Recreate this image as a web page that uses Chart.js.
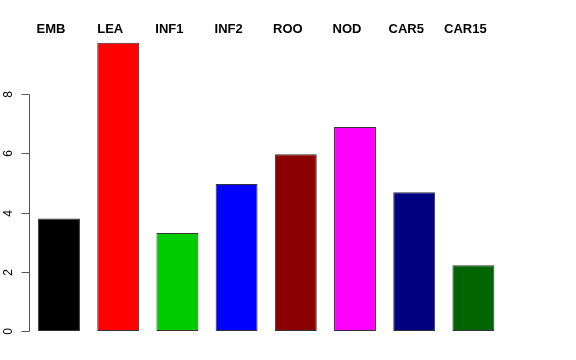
<!DOCTYPE html>
<html>
<head>
<meta charset="utf-8">
<script src="https://cdn.jsdelivr.net/npm/chart.js@4/dist/chart.umd.min.js"></script>
<style>
html,body{margin:0;padding:0;background:#fff;}
canvas{display:block;}
</style>
</head>
<body>
<canvas id="c" width="576" height="360"></canvas>
<script>
const categories = ["EMB","LEA","INF1","INF2","ROO","NOD","CAR5","CAR15"];
const values = [3.80, 9.73, 3.31, 4.96, 5.97, 6.89, 4.68, 2.22];
const barColors = ["#000000","#FF0000","#00CD00","#0000FF","#8B0000","#FF00FF","#000080","#006400"];
const yTicks = [0, 2, 4, 6, 8];

const rAxes = {
  id: 'rAxes',
  afterDraw(chart) {
    const ctx = chart.ctx;
    const x = chart.scales.x, y = chart.scales.y;
    ctx.save();
    // y axis line
    const ax = 29.5;
    ctx.strokeStyle = '#555';
    ctx.lineWidth = 1;
    ctx.beginPath();
    ctx.moveTo(ax, Math.round(y.getPixelForValue(yTicks[0])) + 0.5);
    ctx.lineTo(ax, Math.round(y.getPixelForValue(yTicks[yTicks.length-1])) + 0.5);
    ctx.stroke();
    ctx.fillStyle = '#000';
    ctx.font = '12px "Liberation Sans", Arial, sans-serif';
    ctx.textAlign = 'center';
    ctx.textBaseline = 'middle';
    yTicks.forEach(t => {
      const py = Math.round(y.getPixelForValue(t)) + 0.5;
      ctx.beginPath();
      ctx.moveTo(ax, py);
      ctx.lineTo(ax - 8, py);
      ctx.stroke();
      ctx.save();
      ctx.translate(9, py);
      ctx.rotate(-Math.PI/2);
      ctx.fillText(String(t), 0, 0);
      ctx.restore();
    });
    // top category labels
    ctx.font = 'bold 13px "Liberation Sans", Arial, sans-serif';
    categories.forEach((c, i) => {
      ctx.fillText(c, x.getPixelForValue(i) - 8, 29);
    });
    ctx.restore();
  }
};

new Chart(document.getElementById('c'), {
  type: 'bar',
  data: {
    labels: categories,
    datasets: [{
      data: values,
      backgroundColor: barColors,
      borderColor: '#333333',
      borderWidth: 1,
      borderSkipped: false,
      barPercentage: 0.708,
      categoryPercentage: 1.0
    }]
  },
  options: {
    responsive: false,
    animation: false,
    devicePixelRatio: 1,
    layout: { padding: { left: 29.4, right: 73, top: 34.75, bottom: 29 } },
    plugins: { legend: { display: false }, tooltip: { enabled: false } },
    scales: {
      x: { display: false },
      y: { display: false, min: 0, max: 10 }
    }
  },
  plugins: [rAxes]
});
</script>
</body>
</html>
